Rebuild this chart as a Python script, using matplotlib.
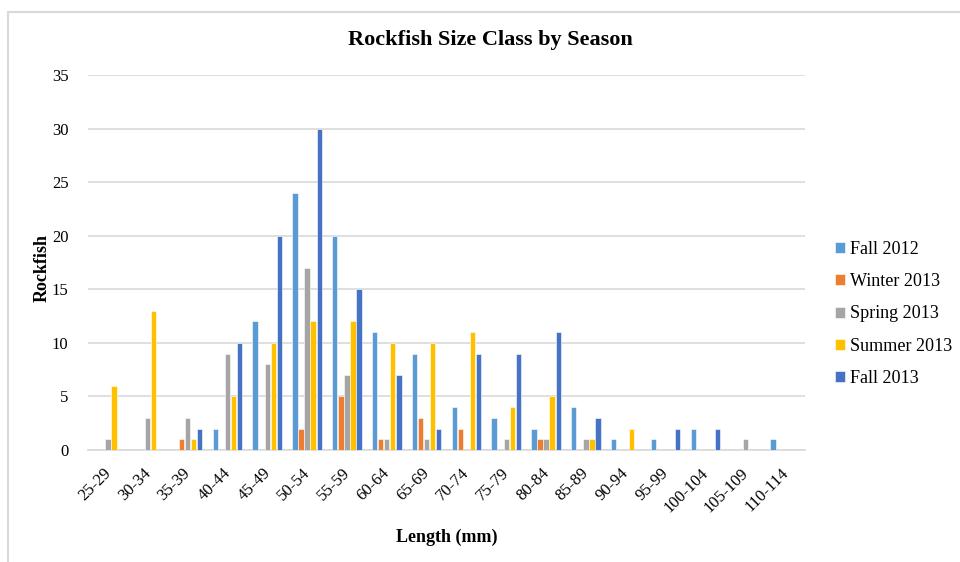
import numpy as np
import matplotlib.pyplot as plt
import matplotlib.transforms as mtransforms
from matplotlib.patches import Rectangle

plt.rcParams['font.family'] = ['Liberation Serif', 'DejaVu Serif']

size_classes = ["25-29", "30-34", "35-39", "40-44", "45-49", "50-54", "55-59",
                "60-64", "65-69", "70-74", "75-79", "80-84", "85-89", "90-94",
                "95-99", "100-104", "105-109", "110-114"]

fall_2012   = [0, 0, 0, 2, 12, 24, 20, 11, 9, 4, 3, 2, 4, 1, 1, 2, 0, 1]
winter_2013 = [0, 0, 1, 0, 0, 2, 5, 1, 3, 2, 0, 1, 0, 0, 0, 0, 0, 0]
spring_2013 = [1, 3, 3, 9, 8, 17, 7, 1, 1, 0, 1, 1, 1, 0, 0, 0, 1, 0]
summer_2013 = [6, 13, 1, 5, 10, 12, 12, 10, 10, 11, 4, 5, 1, 2, 0, 0, 0, 0]
fall_2013   = [0, 0, 2, 10, 20, 30, 15, 7, 2, 9, 9, 11, 3, 0, 2, 2, 0, 0]

season_names = ["Fall 2012", "Winter 2013", "Spring 2013", "Summer 2013", "Fall 2013"]
season_values = [fall_2012, winter_2013, spring_2013, summer_2013, fall_2013]
season_colors = ["#5B9BD5", "#ED7D31", "#A5A5A5", "#FFC000", "#4472C4"]

W, H = 960, 562
fig = plt.figure(figsize=(W / 100, H / 100), dpi=100)

# outer chart frame
fig.patches.append(Rectangle((8 / W, -0.1), 1.2, 1 - 12 / H + 0.1,
                             transform=fig.transFigure, fill=False,
                             edgecolor="#D9D9D9", linewidth=1.5))

left, right, top, bottom = 88, 805, 75, 450
ax = fig.add_axes([left / W, 1 - bottom / H, (right - left) / W, (bottom - top) / H])

x = np.arange(len(size_classes))
slot = 0.152
bar_w = 0.135
for i, (name, vals, col) in enumerate(zip(season_names, season_values, season_colors)):
    ax.bar(x + (i - 2) * slot, vals, width=bar_w, color=col, label=name,
           edgecolor="white", linewidth=0.4, zorder=3)

ax.set_xlim(-0.5, len(size_classes) - 0.5)
ax.set_ylim(0, 35)
ax.set_yticks(np.arange(0, 36, 5))
ax.yaxis.grid(True, color="#D9D9D9", linewidth=1.2, zorder=0)
for s in ["top", "right", "left"]:
    ax.spines[s].set_visible(False)
ax.spines["bottom"].set_color("#D9D9D9")
ax.spines["bottom"].set_linewidth(1.2)
ax.tick_params(axis="both", length=0, labelsize=12, colors="#000000")
ax.tick_params(axis="y", pad=14)
ax.set_xticks(x)
ax.set_xticklabels(size_classes, rotation=45, ha="right", rotation_mode="anchor")
ax.tick_params(axis="x", pad=11)
shift = mtransforms.ScaledTranslation(-5 / 100, 0, fig.dpi_scale_trans)
for lbl in ax.get_xticklabels():
    lbl.set_transform(lbl.get_transform() + shift)

fig.text(490 / W, 1 - 40 / H, "Rockfish Size Class by Season", ha="center", va="center",
         fontsize=16, fontweight="bold")
fig.text(447 / W, 1 - 537 / H, "Length (mm)", ha="center", va="center",
         fontsize=13, fontweight="bold")
fig.text(42 / W, 1 - 268 / H, "Rockfish", ha="center", va="center", rotation=90,
         fontsize=13, fontweight="bold")

leg = ax.legend(loc="upper left", bbox_to_anchor=(828 / W, 1 - 234 / H),
                bbox_transform=fig.transFigure, frameon=False, fontsize=13.1,
                handlelength=0.55, handleheight=0.55, handletextpad=0.25,
                labelspacing=0.83, borderaxespad=0)

fig.savefig("out.png", dpi=100)
